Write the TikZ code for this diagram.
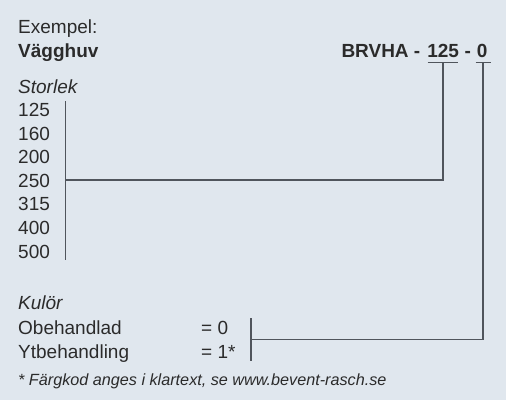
\documentclass[tikz,border=0pt]{standalone}
\usepackage{fontspec}
\setmainfont{Liberation Sans}
\definecolor{bg}{HTML}{E0E7EE}
\definecolor{txt}{HTML}{2B2B2B}
\definecolor{ln}{HTML}{50555C}
\begin{document}
\begin{tikzpicture}[x=1pt,y=-1pt,
  lbl/.style={anchor=base west,inner sep=0pt,text=txt,font=\fontsize{19}{23}\selectfont},
  blbl/.style={lbl,font=\fontsize{19}{23}\selectfont\bfseries},
  ilbl/.style={lbl,font=\fontsize{19}{23}\selectfont\itshape},
  note/.style={lbl,font=\fontsize{16.2}{20}\selectfont\itshape},
  conn/.style={draw=ln,line width=1.3pt}]
\fill[bg] (0,0) rectangle (506,400);
\useasboundingbox (0,0) rectangle (506,400);
% header
\node[lbl]  (ex)  at (18,33) {Exempel:};
\node[blbl] (vh)  at (18,57) {Vägghuv};
\node[blbl] (brv) at (341.3,57) {BRVHA -};
\node[blbl] (c125) at (427.1,57) {125};
\node[blbl] (dsh) at (464.5,57) {-};
\node[blbl] (c0)  at (476.6,57) {0};
% sizes
\node[ilbl] (st) at (18,93) {Storlek};
\foreach \v [count=\i from 0] in {125,160,200,250,315,400,500}
  \node[lbl] (s\v) at (18,116.5+23.6*\i) {\v};
% colours
\node[ilbl] (ku) at (18,309.5) {Kulör};
\node[lbl] (ob) at (18,334) {Obehandlad};
\node[lbl] (yt) at (18,358) {Ytbehandling};
\node[lbl] (e0) at (201,334) {= 0};
\node[lbl] (e1) at (201,358) {= 1*};
\node[note] (fn) at (18,385) {* Färgkod anges i klartext, se www.bevent-rasch.se};
% connector points
\coordinate (u1a) at (427.5,62.5);
\coordinate (u1b) at (457.5,62.5);
\coordinate (u1m) at (443,62.5);
\coordinate (k1) at (443,180);
\coordinate (k2) at (65.5,180);
\coordinate (b1a) at (65.5,101);
\coordinate (b1b) at (65.5,259.5);
\coordinate (u2a) at (475.5,62.5);
\coordinate (u2b) at (490.5,62.5);
\coordinate (u2m) at (483,62.5);
\coordinate (k3) at (483,339.5);
\coordinate (k4) at (251,339.5);
\coordinate (b2a) at (251,318);
\coordinate (b2b) at (251,361);
% connectors
\draw[conn] (u1a) -- (u1b);
\draw[conn] (u2a) -- (u2b);
\draw[conn] (u1m) -- (k1) -- (k2);
\draw[conn] (b1a) -- (b1b);
\draw[conn] (u2m) -- (k3) -- (k4);
\draw[conn] (b2a) -- (b2b);
\end{tikzpicture}
\end{document}
